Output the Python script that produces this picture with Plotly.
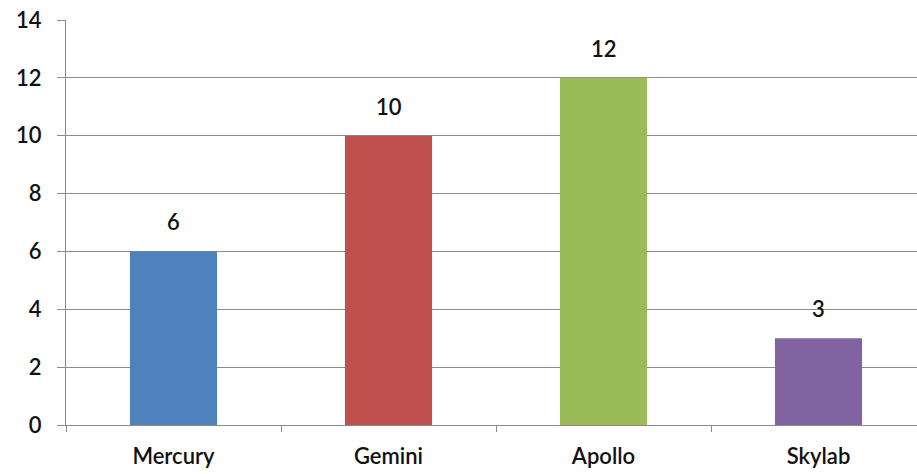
import plotly.graph_objects as go

categories = ["Mercury", "Gemini", "Apollo", "Skylab"]
values = [6, 10, 12, 3]
colors = ["#4F81BD", "#C0504D", "#9BBB59", "#8064A2"]
y_ticks = [0, 2, 4, 6, 8, 10, 12, 14]

font_family = "Lato, 'Open Sans', sans-serif"
txt_color = "#111111"
fw = 600

fig = go.Figure()
fig.add_trace(go.Bar(
    x=categories, y=values, marker=dict(color=colors, line=dict(width=0)),
    width=0.405, showlegend=False, hoverinfo="x+y",
))

for c, v in zip(categories, values):
    fig.add_annotation(x=c, y=v, text=str(v), showarrow=False,
                       yanchor="bottom", yshift=14,
                       font=dict(family=font_family, size=22, color=txt_color, weight=fw))

fig.update_layout(
    width=917, height=474,
    margin=dict(l=66, r=0, t=20, b=49),
    paper_bgcolor="white", plot_bgcolor="white",
    bargap=0.595,
    font=dict(family=font_family, size=22, color=txt_color),
)
fig.update_xaxes(
    range=[-0.5, -0.5 + 851 / 215],
    showline=True, linecolor="#8a8a8a", linewidth=1,
    ticks="outside", ticklen=6, tickcolor="#8a8a8a",
    tickson="boundaries", ticklabelstandoff=12,
    showgrid=False, zeroline=False,
    tickfont=dict(family=font_family, size=22, color=txt_color, weight=fw),
)
fig.update_yaxes(
    range=[0, 14], tickvals=y_ticks,
    showline=True, linecolor="#8a8a8a", linewidth=1,
    ticks="outside", ticklen=8, tickcolor="#8a8a8a",
    showgrid=True, gridcolor="#8c8c8c", gridwidth=1,
    zeroline=False, ticklabelstandoff=11,
    tickfont=dict(family=font_family, size=22, color=txt_color, weight=fw),
)

fig.write_html("out.html")
